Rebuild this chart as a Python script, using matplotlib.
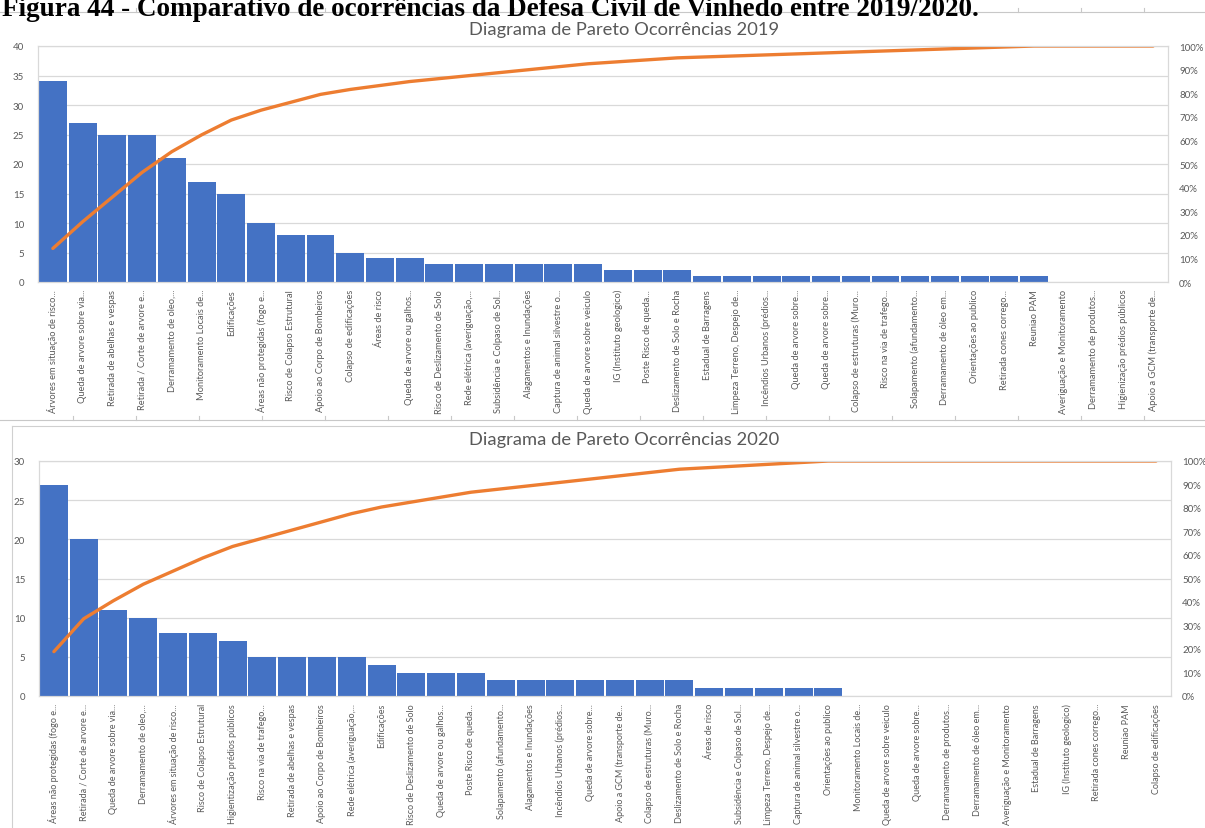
import matplotlib.pyplot as plt
import numpy as np
from matplotlib.lines import Line2D
from matplotlib.ticker import PercentFormatter

plt.rcParams['font.family'] = ['Lato', 'DejaVu Sans']

# 2019 occurrences (sorted, Pareto order)
labels_2019 = [
    'Árvores em situação de risco...', 'Queda de arvore sobre via...',
    'Retirada de abelhas e vespas', 'Retirada / Corte de arvore e...',
    'Derramamento de oleo,...', 'Monitoramento Locais de...', 'Edificações',
    'Áreas não protegidas (fogo e...', 'Risco de Colapso Estrutural',
    'Apoio ao Corpo de Bombeiros', 'Colapso de edificações', 'Áreas de risco',
    'Queda de arvore ou galhos...', 'Risco de Deslizamento de Solo',
    'Rede elétrica (averiguação,...', 'Subsidência e Colpaso de Sol...',
    'Alagamentos e Inundações', 'Captura de animal silvestre o...',
    'Queda de arvore sobre veiculo', 'IG (Instituto geologico)',
    'Poste Risco de queda...', 'Deslizamento de Solo e Rocha',
    'Estadual de Barragens', 'Limpeza Terreno, Despejo de...',
    'Incêndios Urbanos (prédios...', 'Queda de arvore sobre...',
    'Queda de arvore sobre...', 'Colapso de estruturas (Muro...',
    'Risco na via de trafego...', 'Solapamento (afundamento...',
    'Derramamento de óleo em...', 'Orientações ao publico',
    'Retirada cones corrego...', 'Reuniao PAM', 'Averiguação e Monitoramento',
    'Derramamento de produtos...', 'Higienização prédios públicos',
    'Apoio a GCM (transporte de...',
]
values_2019 = [34, 27, 25, 25, 21, 17, 15, 10, 8, 8, 5, 4, 4, 3, 3, 3, 3, 3, 3,
               2, 2, 2, 1, 1, 1, 1, 1, 1, 1, 1, 1, 1, 1, 1, 0, 0, 0, 0]

# 2020 occurrences
labels_2020 = [
    'Áreas não protegidas (fogo e...', 'Retirada / Corte de arvore e...',
    'Queda de arvore sobre via...', 'Derramamento de oleo,...',
    'Árvores em situação de risco...', 'Risco de Colapso Estrutural',
    'Higientização prédios públicos', 'Risco na via de trafego...',
    'Retirada de abelhas e vespas', 'Apoio ao Corpo de Bombeiros',
    'Rede elétrica (averiguação,...', 'Edificações',
    'Risco de Deslizamento de Solo', 'Queda de arvore ou galhos...',
    'Poste Risco de queda...', 'Solapamento (afundamento...',
    'Alagamentos e Inundações', 'Incêndios Urbanos (prédios...',
    'Queda de arvore sobre...', 'Apoio a GCM (transporte de...',
    'Colapso de estruturas (Muro...', 'Deslizamento de Solo e Rocha',
    'Áreas de risco', 'Subsidência e Colpaso de Sol...',
    'Limpeza Terreno, Despejo de...', 'Captura de animal silvestre o...',
    'Orientações ao publico', 'Monitoramento Locais de...',
    'Queda de arvore sobre veiculo', 'Queda de arvore sobre...',
    'Derramamento de produtos...', 'Derramamento de óleo em...',
    'Averiguação e Monitoramento', 'Estadual de Barragens',
    'IG (Instituto geologico)', 'Retirada cones corrego...', 'Reuniao PAM',
    'Colapso de edificações',
]
values_2020 = [27, 20, 11, 10, 8, 8, 7, 5, 5, 5, 5, 4, 3, 3, 3, 2, 2, 2, 2, 2,
               2, 2, 1, 1, 1, 1, 1, 0, 0, 0, 0, 0, 0, 0, 0, 0, 0, 0]

BAR = '#4472C4'
LINE = '#ED7D31'
GRID = '#D9D9D9'
TXT = '#595959'

W, H = 1205, 829
fig = plt.figure(figsize=(W / 100, H / 100), dpi=100)


def px(x0, y0, x1, y1):
    # pixel box (top-left origin) -> figure rect
    return [x0 / W, 1 - y1 / H, (x1 - x0) / W, (y1 - y0) / H]


def pareto(rect, labels, values, ymax, title, title_y, lab_size):
    ax = fig.add_axes(rect)
    x = np.arange(len(values))
    ax.bar(x, values, width=0.94, color=BAR, zorder=2)
    ax.set_xlim(-0.5, len(values) - 0.5)
    ax.set_ylim(0, ymax)
    ax.set_yticks(np.arange(0, ymax + 1, 5))
    ax.yaxis.grid(True, color=GRID, lw=0.9, zorder=0)
    ax.set_xticks(x)
    ax.set_xticklabels(labels, rotation=90, fontsize=lab_size, color=TXT)
    ax.tick_params(axis='both', length=0, colors=TXT)
    ax.tick_params(axis='y', labelsize=7, pad=10)
    ax.tick_params(axis='x', pad=5)
    for s in ax.spines.values():
        s.set_color(GRID)
        s.set_linewidth(0.8)

    cum = np.cumsum(values) / np.sum(values)
    ax2 = ax.twinx()
    ax2.plot(x, cum, color=LINE, lw=2.4, solid_capstyle='round')
    ax2.set_ylim(0, 1)
    ax2.set_yticks(np.arange(0, 1.01, 0.1))
    ax2.yaxis.set_major_formatter(PercentFormatter(1.0, decimals=0))
    ax2.tick_params(axis='y', length=0, labelsize=7, colors=TXT, pad=8)
    for s in ax2.spines.values():
        s.set_color(GRID)
        s.set_linewidth(0.8)

    fig.text(624 / W, 1 - title_y / H, title, ha='center', va='center',
             fontsize=13.2, color=TXT)
    return ax


pareto(px(38, 47, 1168, 283), labels_2019, values_2019, 40,
       'Diagrama de Pareto Ocorrências 2019', 30, 6.7)
pareto(px(39, 462, 1171, 697), labels_2020, values_2020, 30,
       'Diagrama de Pareto Ocorrências 2020', 440, 6.5)

# page caption (cut off at the top in the source image)
fig.text(2 / W, 1 - 16 / H,
         'Figura 44 - Comparativo de ocorrências da Defesa Civil de Vinhedo entre 2019/2020.',
         ha='left', va='baseline', fontsize=19.5, fontweight='bold',
         family='Liberation Serif', color='black')

# page / chart frame lines
for yy in (13, 421):
    fig.add_artist(Line2D([0, 1], [1 - yy / H] * 2, color='#C8C8C8', lw=0.8))
    for tx in range(73, W, 63):
        fig.add_artist(Line2D([tx / W] * 2, [1 - yy / H, 1 - (yy - 4) / H],
                              color='#C8C8C8', lw=0.8))
fig.add_artist(Line2D([12 / W, 1], [1 - 427 / H] * 2, color='#D0D0D0', lw=0.8))
fig.add_artist(Line2D([12 / W] * 2, [0, 1 - 427 / H], color='#D0D0D0', lw=0.8))

fig.savefig('out.png', dpi=100, facecolor='white')
